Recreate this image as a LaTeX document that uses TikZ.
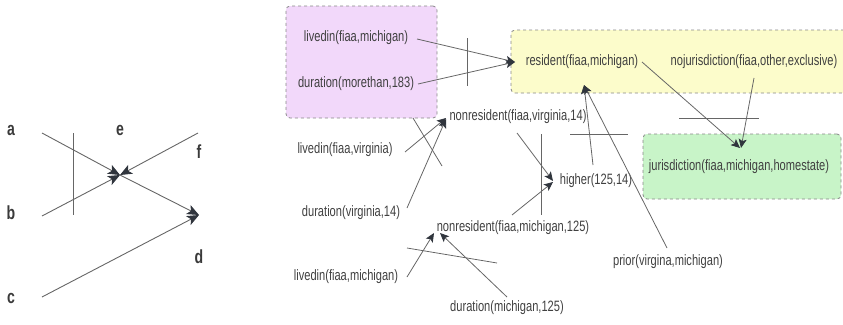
\documentclass[tikz,border=0pt]{standalone}
\usepackage{fontspec}
\setmainfont{Liberation Sans}[FakeStretch=0.74]
\usetikzlibrary{arrows.meta,calc}
\definecolor{txt}{HTML}{404040}
\definecolor{txtb}{HTML}{3A3A3A}
\definecolor{ln}{HTML}{666666}
\definecolor{hd}{HTML}{30353D}
\definecolor{bd}{HTML}{888888}
\definecolor{purp}{HTML}{F2D8FA}
\definecolor{yell}{HTML}{FCFCCB}
\definecolor{grn}{HTML}{C8F4C8}
\begin{document}
\begin{tikzpicture}[x=1pt,y=-1pt,
  lbl/.style={font=\fontsize{15}{17}\selectfont, text=txt, inner sep=0pt},
  big/.style={font=\fontsize{19}{21}\selectfont\bfseries, text=txtb, inner sep=0pt},
  con/.style={draw=ln, line width=0.8pt, -{Stealth[length=9pt,width=8pt,inset=2pt,color=hd]}},
  bigcon/.style={draw=ln, line width=0.9pt, -{Stealth[length=12pt,width=10pt,inset=3pt,color=hd]}},
  bar/.style={draw=ln, line width=0.8pt},
  grp/.style={draw=bd, dashed, rounded corners=4pt, line width=0.8pt}]
\useasboundingbox (0,0) rectangle (843,324);

% ---------- left graph ----------
\node[big] (a) at (11,130) {a};
\node[big] (e) at (120,130) {e};
\node[big] (f) at (199,152) {f};
\node[big] (b) at (11,213) {b};
\node[big] (d) at (199,257) {d};
\node[big] (c) at (11,298) {c};
\coordinate (ae) at (42,133);
\coordinate (be) at (42,216);
\coordinate (ce) at (42,297);
\coordinate (fe) at (198,133);
\coordinate (je) at (120,175);
\coordinate (jd) at (199,215);
\draw[bigcon] (ae) -- (je);
\draw[bigcon] (be) -- (je);
\draw[bigcon] (fe) -- (je);
\draw[bigcon] (je) -- (jd);
\draw[bigcon] (ce) -- (jd);
\coordinate (lb1) at (73,133);
\coordinate (lb2) at (73,215);
\draw[bar] (lb1) -- (lb2);

% ---------- groups ----------
\node[grp, fill=purp, minimum width=151pt, minimum height=112pt] (gp) at (361.5,62) {};
\node[grp, fill=yell, minimum width=337pt, minimum height=63pt] (gy) at (679.5,61.5) {};
\node[grp, fill=grn, minimum width=198pt, minimum height=65pt] (gg) at (742,166.5) {};

% ---------- texts ----------
\node[lbl] (lm1) at (356,38) {livedin(fiaa,michigan)};
\node[lbl] (dm)  at (356,84) {duration(morethan,183)};
\node[lbl] (res) at (582,62) {resident(fiaa,michigan)};
\node[lbl] (noj) at (754,62) {nojurisdiction(fiaa,other,exclusive)};
\node[lbl] (nrv) at (518,117) {nonresident(fiaa,virginia,14)};
\node[lbl] (lv)  at (345,150) {livedin(fiaa,virginia)};
\node[lbl] (dv)  at (351,213) {duration(virginia,14)};
\node[lbl] (hi)  at (596,181) {higher(125,14)};
\node[lbl] (jur) at (739,167) {jurisdiction(fiaa,michigan,homestate)};
\node[lbl] (nrm) at (513,228) {nonresident(fiaa,michigan,125)};
\node[lbl] (pr)  at (668,262) {prior(virgina,michigan)};
\node[lbl] (lm2) at (346,277) {livedin(fiaa,michigan)};
\node[lbl] (dmi) at (507,308) {duration(michigan,125)};

% ---------- connectors ----------
\draw[con] (417,39) -- (515,62);
\draw[con] (418,84) -- (515,62);
\draw[bar] (467,38) -- (467,86);

\draw[con] (642,62) -- (740,148);
\draw[con] (754,78) -- (741,148);
\draw[bar] (679,118) -- (759,118);

\draw[con] (593,165) -- (584,85);
\draw[con] (667,248) -- (584,85);
\draw[bar] (570,134) -- (628,134);

\draw[con] (517,133) -- (553,181);
\draw[con] (512,215) -- (553,182);
\draw[bar] (541,134) -- (541,215);

\draw[con] (405,152) -- (446,118);
\draw[con] (407,208) -- (446,119);
\draw[bar] (413,118) -- (442,166);

\draw[con] (407,277) -- (434,233);
\draw[con] (507,297) -- (440,233);
\draw[bar] (407,248) -- (497,263);
\end{tikzpicture}
\end{document}
